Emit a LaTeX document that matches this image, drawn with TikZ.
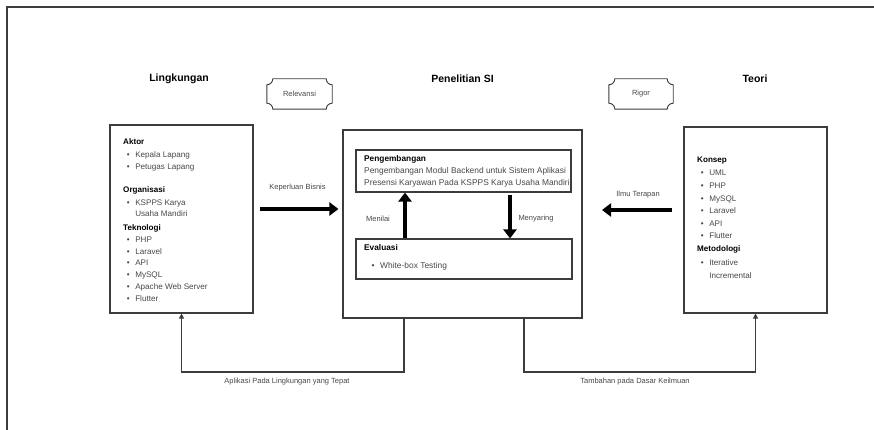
\documentclass[tikz,border=0pt]{standalone}
\usepackage{fontspec}
\setmainfont{Liberation Sans}
\usetikzlibrary{arrows.meta,calc}
\definecolor{txt}{HTML}{474747}
\definecolor{ln}{HTML}{3C3C3C}
\newcommand{\plaquedraw}[2]{%
  \draw[plq] ($(#1.north west)+(#2,0)$) -- ($(#1.north east)+(-#2,0)$)
    .. controls ($(#1.north east)+(-#2,0.552*#2)$) and ($(#1.north east)+(-0.552*#2,#2)$) .. ($(#1.north east)+(0,#2)$)
    -- ($(#1.south east)+(0,-#2)$)
    .. controls ($(#1.south east)+(-0.552*#2,-#2)$) and ($(#1.south east)+(-#2,-0.552*#2)$) .. ($(#1.south east)+(-#2,0)$)
    -- ($(#1.south west)+(#2,0)$)
    .. controls ($(#1.south west)+(#2,-0.552*#2)$) and ($(#1.south west)+(0.552*#2,-#2)$) .. ($(#1.south west)+(0,-#2)$)
    -- ($(#1.north west)+(0,#2)$)
    .. controls ($(#1.north west)+(0.552*#2,#2)$) and ($(#1.north west)+(#2,0.552*#2)$) .. ($(#1.north west)+(#2,0)$) -- cycle;}
\tikzset{
  boxx/.style={draw=ln, line width=1.1pt, inner sep=0pt},
  plq/.style={draw=ln, line width=0.9pt},
  ttl/.style={font=\bfseries\fontsize{10.5}{12}\selectfont, text=black, inner sep=0pt},
  hd/.style={font=\bfseries\fontsize{8.1}{10}\selectfont, text=black, anchor=base west, inner sep=0pt},
  bd/.style={font=\fontsize{8.1}{10}\selectfont, text=txt, anchor=base west, inner sep=0pt},
  hdc/.style={font=\bfseries\fontsize{8.3}{10}\selectfont, text=black, anchor=base west, inner sep=0pt},
  bdc/.style={font=\fontsize{8.4}{10}\selectfont, text=txt, anchor=base west, inner sep=0pt},
  lbl/.style={font=\fontsize{7.5}{9}\selectfont, text=txt, inner sep=0pt},
  big/.style={line width=4pt, draw=black, -{Triangle[length=9pt,width=13pt]}},
  conn/.style={draw=ln, line width=1.2pt, -{Triangle[length=5pt,width=5pt]}}
}
\newcommand{\bul}[1]{\makebox[8.5pt][l]{\textbullet}#1}
\begin{document}
\begin{tikzpicture}[x=1pt,y=-1pt]
\useasboundingbox (0,0) rectangle (874,430);
\draw[draw=ln, line width=1.4pt] (874,7) -- (7,7) -- (7,430);

% titles
\node[ttl] (tLk) at (179,79) {Lingkungan};
\node[ttl] (tPs) at (462.5,79) {Penelitian SI};
\node[ttl] (tTe) at (755,79) {Teori};

% plaques
\node[lbl, minimum width=65pt, minimum height=30pt] (rel) at (299.5,94) {Relevansi};
\plaquedraw{rel}{6}
\node[lbl, minimum width=64pt, minimum height=30pt] (rig) at (641,94) {Rigor};
\plaquedraw{rig}{6}

% main boxes
\node[boxx, minimum width=143pt, minimum height=188pt] (lk) at (181.5,219) {};
\node[boxx, minimum width=239pt, minimum height=188pt] (ps) at (462.5,224) {};
\node[boxx, minimum width=143pt, minimum height=186pt] (te) at (755.5,220) {};
\node[boxx, minimum width=215pt, minimum height=42pt] (pg) at (463.5,171) {};
\node[boxx, minimum width=216pt, minimum height=40pt] (ev) at (464,259) {};

% Lingkungan content
\node[hd] (lkA) at (123,145) {Aktor};
\node[bd] (lkA1) at (126.6,158) {\bul{Kepala Lapang}};
\node[bd] (lkA2) at (126.6,170) {\bul{Petugas Lapang}};
\node[hd] (lkO) at (123,193) {Organisasi};
\node[bd] (lkO1) at (126.6,206) {\bul{KSPPS Karya}};
\node[bd] (lkO2) at (135.1,217) {Usaha Mandiri};
\node[hd] (lkT) at (123,230) {Teknologi};
\foreach \t/\y [count=\i] in {PHP/242, Laravel/254, API/265, MySQL/277, Apache Web Server/289, Flutter/301}
  \node[bd] (lkT\i) at (126.6,\y) {\bul{\t}};

% Penelitian content
\node[hdc] (pgH) at (364,162) {Pengembangan};
\node[bdc] (pg1) at (364,174) {Pengembangan Modul Backend untuk Sistem Aplikasi};
\node[bdc] (pg2) at (364,186) {Presensi Karyawan Pada KSPPS Karya Usaha Mandiri};
\node[hdc] (evH) at (364,250) {Evaluasi};
\node[bdc] (ev1) at (371.5,268) {\bul{White-box Testing}};

% Teori content
\node[hd] (teK) at (697,163) {Konsep};
\foreach \t/\y [count=\i] in {UML/176, PHP/189, MySQL/201, Laravel/214, API/226, Flutter/238}
  \node[bd] (teK\i) at (700.6,\y) {\bul{\t}};
\node[hd] (teM) at (697,251) {Metodologi};
\node[bd] (teM1) at (700.6,265) {\bul{Iterative}};
\node[bd] (teM2) at (709.1,278) {Incremental};

% thick arrows
\coordinate (kA) at (260,209);
\coordinate (iA) at (672,210);
\draw[big, shorten >=4pt] (kA) -- (kA -| ps.west);
\node[lbl] (kLbl) at (297.5,188) {Keperluan Bisnis};
\draw[big] (iA) -- (602,210);
\node[lbl] (iLbl) at (638,195) {Ilmu Terapan};
\coordinate (mA) at (405,0);
\coordinate (yA) at (510,0);
\draw[big] (mA |- ev.north) -- (mA |- pg.south);
\draw[big, shorten <=2pt] (yA |- pg.south) -- (yA |- ev.north);
\node[lbl] (mLbl) at (378,219) {Menilai};
\node[lbl] (yLbl) at (536,219) {Menyaring};

% bottom connectors
\coordinate (bL) at (404,372);
\coordinate (bR) at (524,372);
\draw[conn] (bL |- ps.south) -- (bL) -- (bL -| lk.south) -- (lk.south);
\draw[conn] (bR |- ps.south) -- (bR) -- (bR -| te.south) -- (te.south);
\node[lbl] (aLbl) at (287,382) {Aplikasi Pada Lingkungan yang Tepat};
\node[lbl] (tLbl) at (635,382) {Tambahan pada Dasar Keilmuan};
\end{tikzpicture}
\end{document}
